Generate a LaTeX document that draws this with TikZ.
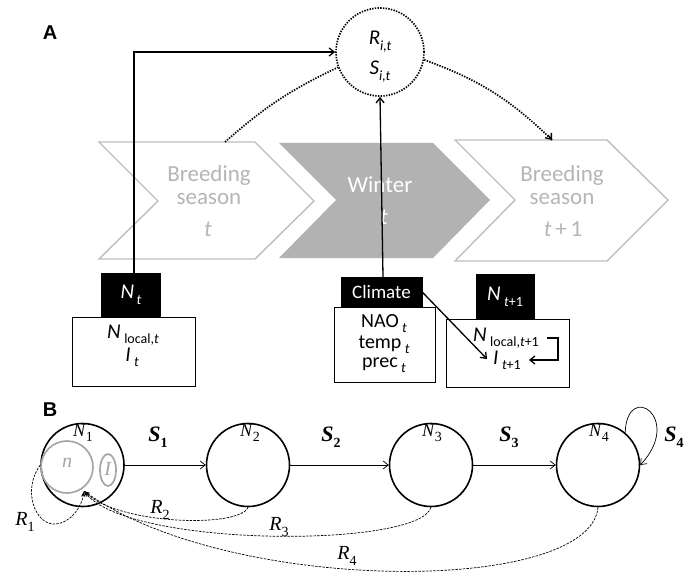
\documentclass[tikz,border=0pt]{standalone}
\usepackage{fontspec}
\setmainfont{Carlito}
\newfontfamily\tms{Liberation Serif}
\newfontfamily\arl{Liberation Sans}
\usetikzlibrary{arrows.meta,shapes.geometric}
\definecolor{chevgray}{HTML}{BDBDBD}
\definecolor{wintergray}{HTML}{B2B2B2}
\definecolor{txtgray}{HTML}{B5B5B5}
\definecolor{innergray}{HTML}{A6A6A6}
\newcommand\sbs[1]{\raisebox{-0.28em}{\fontsize{14}{14}\selectfont #1}}
\newcommand\sbt[1]{\raisebox{-0.25em}{\fontsize{14}{14}\selectfont #1}}
\begin{document}
\begin{tikzpicture}[x=1pt,y=-1pt,
  chev/.style={draw=chevgray, line width=1.4pt, line join=miter},
  ctext/.style={text=txtgray, font=\fontsize{23}{24}\selectfont, inner sep=0pt},
  wtext/.style={text=white, font=\fontsize{23}{24}\selectfont, inner sep=0pt},
  blackbox/.style={fill=black, draw=black, text=white, inner sep=0pt, font=\fontsize{19}{20}\selectfont},
  whitebox/.style={fill=white, draw=black, line width=0.8pt, inner sep=0pt},
  btxt/.style={inner sep=0pt, font=\fontsize{20}{20}\selectfont},
  solidarr/.style={line width=1.3pt, -{Straight Barb[length=5pt,width=8pt,line width=1.3pt]}},
  dotarr/.style={line width=1.7pt, dash pattern=on 1.4pt off 1.3pt},
  pop/.style={circle, draw=black, line width=1.6pt, minimum size=83pt, inner sep=0pt},
  inner/.style={draw=innergray, line width=1.7pt},
  sarr/.style={line width=0.7pt, -{Straight Barb[length=5pt,width=8pt,line width=0.7pt]}},
  rarr/.style={line width=0.7pt, dash pattern=on 2.5pt off 1.2pt, -{Stealth[length=6pt,width=4pt]}},
  tlab/.style={inner sep=0pt, font=\tms\fontsize{20}{22}\selectfont},
  nlab/.style={inner sep=0pt, font=\tms\fontsize{18}{20}\selectfont},
  slab/.style={inner sep=0pt, font=\tms\bfseries\itshape\fontsize{22}{22}\selectfont},
  panel/.style={inner sep=0pt, font=\arl\bfseries\fontsize{20}{22}\selectfont}
]
\useasboundingbox (0,0) rectangle (687,572);

% ---------------- Panel A ----------------
\node[panel] (labA) at (50,33) {A};

% chevrons
\draw[chev] (99,142) -- (255,142) -- (314,201) -- (255,259) -- (99,259) -- (158,201) -- cycle;
\fill[wintergray] (279,143) -- (433,143) -- (490,200) -- (433,258) -- (279,258) -- (336,200) -- cycle;
\draw[chev] (455,140) -- (607,140) -- (668,200) -- (607,261) -- (455,261) -- (515,200) -- cycle;
\coordinate (c1top) at (225,142);
\coordinate (c3top) at (552,140);

\node[ctext] (b1) at (209,175) {Breeding};
\node[ctext] (s1a) at (209,199) {season};
\node[ctext] (t1) at (208,229) {\textit{t}};
\node[wtext] (w1) at (380,185) {Winter};
\node[wtext] (t2) at (384,217) {\textit{t}};
\node[ctext] (b3) at (562,175) {Breeding};
\node[ctext] (s3a) at (562,199) {season};
\node[ctext] (t3) at (563,229) {\textit{t}\,+\,1};

% R/S circle
\node[circle, draw=black, dash pattern=on 1.4pt off 1.3pt, line width=1.7pt, minimum size=88pt, inner sep=0pt] (rs) at (380,52) {};
\node[btxt, font=\fontsize{21}{22}\selectfont] (rit) at (380,42) {\textit{R}\sbs{\textit{i,t}}};
\node[btxt, font=\fontsize{21}{22}\selectfont] (sit) at (380,72) {\textit{S}\sbs{\textit{i,t}}};

% boxes
\node[blackbox, minimum width=59pt, minimum height=44pt] (nt) at (131,295) {\fontsize{21}{22}\selectfont\textit{N}\sbs{\,\textit{t}}};
\node[whitebox, minimum width=123pt, minimum height=69pt] (box1) at (133.5,351.5) {};
\node[btxt] (nloc1) at (133,335) {\fontsize{21}{21}\selectfont\textit{N}\,\sbt{local,\textit{t}}};
\node[btxt] (it1) at (132,357) {\fontsize{21}{21}\selectfont\textit{I}\,\sbt{\textit{t}}};

\node[blackbox, minimum width=81pt, minimum height=30pt] (clim) at (381.5,292) {Climate};
\node[whitebox, minimum width=101pt, minimum height=75pt] (box2) at (384.5,344.5) {};
\node[btxt] (nao) at (384,324) {NAO\,\sbt{\textit{t}}};
\node[btxt] (temp) at (384,345) {temp\,\sbt{\textit{t}}};
\node[btxt] (prec) at (384,365) {prec\,\sbt{\textit{t}}};

\node[blackbox, minimum width=58pt, minimum height=45pt] (nt1) at (505,296.5) {\fontsize{21}{22}\selectfont\textit{N}\,\sbs{\textit{t}+1}};
\node[whitebox, minimum width=123pt, minimum height=68pt] (box3) at (507.5,353) {};
\node[btxt] (nloc2) at (506,338) {\fontsize{21}{21}\selectfont\textit{N}\,\sbt{local,\textit{t}+1}};
\node[btxt] (it2) at (507,360) {\fontsize{21}{21}\selectfont\textit{I}\,\sbt{\textit{t}+1}};

% connectors
\draw[solidarr] ([xshift=3pt]nt.north) |- (rs.west);
\draw[solidarr] ([xshift=1.5pt]clim.north) -- (rs.south);
\draw[dotarr] (c1top) to[bend left=8] (rs.200);
\draw[dotarr] (rs.-10) to[bend left=12] (c3top);
\draw[line width=1.3pt, -{Straight Barb[length=5pt,width=8pt,line width=1.3pt]}] (c3top) ++(-4,-5) -- (c3top);
\draw[solidarr] (clim.east) -- ([xshift=-6pt,yshift=1pt]it2.west);
\draw[solidarr] ([xshift=8pt]nloc2.east) -- ++(11,0) |- ([xshift=8pt]it2.east);

% ---------------- Panel B ----------------
\node[panel] (labB) at (50,410) {B};

\node[pop] (p1) at (82.5,465) {};
\node[pop] (p2) at (248,465) {};
\node[pop] (p3) at (431,465) {};
\node[pop] (p4) at (598,465) {};

\draw[inner] (67,467) circle (26);
\draw[inner] (108,470) ellipse (8 and 16);
\node[tlab, text=innergray] (nn) at (67,463) {\textit{n}};
\node[tlab, text=innergray] (ii) at (108,469) {\textit{I}};

\node[nlab] (l1) at (83,433) {\textit{N}\sbs{1}};
\node[nlab] (l2) at (250,433) {\textit{N}\sbs{2}};
\node[nlab] (l3) at (432,433) {\textit{N}\sbs{3}};
\node[nlab] (l4) at (599,433) {\textit{N}\sbs{4}};

\draw[sarr] (p1) -- (p2);
\draw[sarr] (p2) -- (p3);
\draw[sarr] (p3) -- (p4);
\draw[sarr] (p4.50) .. controls (627,380) and (684,418) .. (p4.east);

\node[slab] (s1) at (158,437) {S\sbs{\upshape\bfseries 1}};
\node[slab] (s2) at (331,437) {S\sbs{\upshape\bfseries 2}};
\node[slab] (s3) at (509,437) {S\sbs{\upshape\bfseries 3}};
\node[slab] (s4) at (674,437) {S\sbs{\upshape\bfseries 4}};

\coordinate (tgt) at (84,491);
\draw[rarr] (p1.west) .. controls (22,490) and (35,525) .. (55,524) .. controls (72,523) and (82,505) .. (tgt);
\draw[rarr] (p2.south) .. controls (240,528) and (120,525) .. (tgt);
\draw[rarr] (p3.south) .. controls (420,548) and (130,548) .. (tgt);
\draw[rarr] (p4.south) .. controls (590,595) and (230,595) .. (tgt);

\node[tlab] (r1) at (25,522) {\textit{R}\sbs{1}};
\node[tlab] (r2) at (160,510) {\textit{R}\sbs{2}};
\node[tlab] (r3) at (279,527) {\textit{R}\sbs{3}};
\node[tlab] (r4) at (347,556) {\textit{R}\sbs{4}};
\end{tikzpicture}
\end{document}
